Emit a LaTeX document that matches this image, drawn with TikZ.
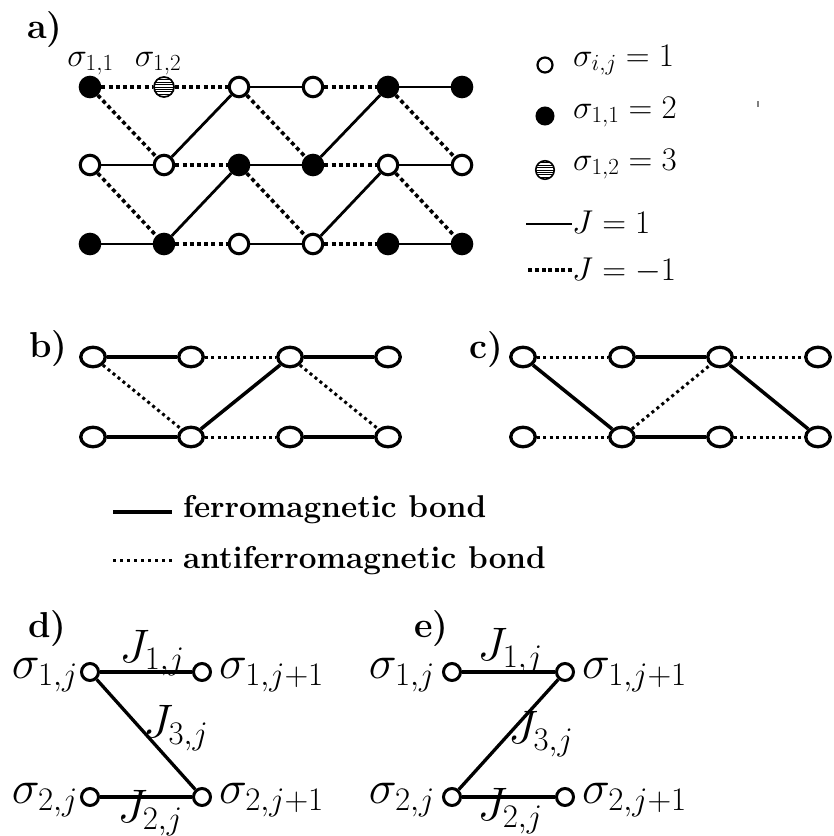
\RequirePackage{fix-cm}
\documentclass[tikz,border=0pt]{standalone}
\usetikzlibrary{shapes.geometric}
\newcommand{\myfsa}{\fontsize{33}{40}\selectfont}
\newcommand{\myfsl}{\fontsize{33}{40}\selectfont}
\newcommand{\myfsb}{\fontsize{36}{43}\selectfont\bfseries}
\newcommand{\myfsf}{\fontsize{31.5}{38}\selectfont\bfseries}
\newcommand{\myfsd}{\fontsize{47}{56}\selectfont}
\tikzset{
  base/.style={circle, draw, line width=3.1pt, inner sep=0pt, minimum size=19.5pt},
  aw/.style={base, fill=white},
  ab/.style={base, fill=black},
  hatchpic/.style={path picture={\foreach \k in {-4,...,4}
      \draw[line width=0.9pt] ([yshift=\k*2.4pt]path picture bounding box.west) -- ([yshift=\k*2.4pt]path picture bounding box.east);}},
  ah/.style={circle, draw, line width=1.7pt, inner sep=0pt, minimum size=20pt, fill=white, hatchpic},
  lw/.style={circle, draw, line width=2.2pt, inner sep=0pt, minimum size=15pt, fill=white},
  lb/.style={circle, draw, line width=2pt, inner sep=0pt, minimum size=17pt, fill=black},
  lh/.style={circle, draw, line width=1.6pt, inner sep=0pt, minimum size=18.5pt, fill=white, hatchpic},
  sol/.style={line width=2.8pt},
  das/.style={line width=3.6pt, dash pattern=on 4pt off 3.2pt},
  ell/.style={ellipse, draw, line width=3.3pt, inner sep=0pt, minimum width=24.5pt, minimum height=19.5pt, fill=white},
  bsol/.style={line width=3.5pt},
  bdot/.style={line width=3pt, dash pattern=on 3pt off 3.4pt},
  dc/.style={circle, draw, line width=3pt, inner sep=0pt, minimum size=17pt, fill=white},
  dsol/.style={line width=3.3pt},
  lab/.style={inner sep=0pt},
}
\begin{document}
\begin{tikzpicture}[x=1pt,y=-1pt]
\useasboundingbox (0,0) rectangle (834,836);

% ---------- panel a ----------
\node[lab, anchor=base west] (alab) at (27,38) {\myfsb a)};
\node[ab] (a11) at (90,87) {};
\node[ah] (a12) at (164,87) {};
\node[aw] (a13) at (239,87) {};
\node[aw] (a14) at (313,87) {};
\node[ab] (a15) at (388,87) {};
\node[ab] (a16) at (462,87) {};
\node[aw] (a21) at (90,165) {};
\node[aw] (a22) at (164,165) {};
\node[ab] (a23) at (239,165) {};
\node[ab] (a24) at (313,165) {};
\node[aw] (a25) at (388,165) {};
\node[aw] (a26) at (462,165) {};
\node[ab] (a31) at (90,244) {};
\node[ab] (a32) at (164,244) {};
\node[aw] (a33) at (239,244) {};
\node[aw] (a34) at (313,244) {};
\node[ab] (a35) at (388,244) {};
\node[ab] (a36) at (462,244) {};
\node[lab, anchor=base] (s11) at (90.5,66) {\myfsa$\sigma_{1,1}$};
\node[lab, anchor=base] (s12) at (158,66) {\myfsa$\sigma_{1,2}$};

\draw[das] (a11) -- (a12);
\draw[das] (a12) -- (a13);
\draw[sol] (a13) -- (a14);
\draw[das] (a14) -- (a15);
\draw[sol] (a15) -- (a16);
\draw[sol] (a21) -- (a22);
\draw[das] (a22) -- (a23);
\draw[sol] (a23) -- (a24);
\draw[das] (a24) -- (a25);
\draw[sol] (a25) -- (a26);
\draw[sol] (a31) -- (a32);
\draw[das] (a32) -- (a33);
\draw[sol] (a33) -- (a34);
\draw[das] (a34) -- (a35);
\draw[sol] (a35) -- (a36);
\draw[das] (a11) -- (a22);
\draw[sol] (a22) -- (a13);
\draw[das] (a13) -- (a24);
\draw[sol] (a24) -- (a15);
\draw[das] (a15) -- (a26);
\draw[das] (a21) -- (a32);
\draw[sol] (a32) -- (a23);
\draw[das] (a23) -- (a34);
\draw[sol] (a34) -- (a25);
\draw[das] (a25) -- (a36);

% legend a
\node[lw] (l1) at (545,65) {};
\node[lab, anchor=base west] (t1) at (573,66) {\myfsl$\sigma_{i,j}=1$};
\node[lb] (l2) at (545,116) {};
\node[lab, anchor=base west] (t2) at (573,118) {\myfsl$\sigma_{1,1}=2$};
\node[lh] (l3) at (545,170) {};
\node[lab, anchor=base west] (t3) at (573,170) {\myfsl$\sigma_{1,2}=3$};
\coordinate (j1a) at (526,224);
\coordinate (j1b) at (572,224);
\draw[sol] (j1a) -- (j1b);
\node[lab, anchor=base west] (t4) at (572,233) {\myfsl$J=1$};
\coordinate (j2a) at (526,270);
\coordinate (j2b) at (572,270);
\draw[line width=3.3pt, dash pattern=on 4pt off 2.6pt] (j2b) -- (j2a);
\node[lab, anchor=base west] (t5) at (572,280) {\myfsl$J=-1$};
\draw[gray, line width=1.2pt] (758,101) -- (758,107);

% ---------- panel b ----------
\node[lab, anchor=base west] (blab) at (29,357) {\myfsb b)};
\node[ell] (b11) at (93,357) {};
\node[ell] (b12) at (191,357) {};
\node[ell] (b13) at (290,357) {};
\node[ell] (b14) at (388,357) {};
\node[ell] (b21) at (93,437) {};
\node[ell] (b22) at (191,437) {};
\node[ell] (b23) at (290,437) {};
\node[ell] (b24) at (388,437) {};
\draw[bsol] (b11) -- (b12);
\draw[bdot] (b12) -- (b13);
\draw[bsol] (b13) -- (b14);
\draw[bsol] (b21) -- (b22);
\draw[bdot] (b22) -- (b23);
\draw[bsol] (b23) -- (b24);
\draw[bdot] (b11) -- (b22);
\draw[bsol] (b22) -- (b13);
\draw[bdot] (b13) -- (b24);

% ---------- panel c ----------
\node[lab, anchor=base west] (clab) at (469,358) {\myfsb c)};
\node[ell] (c11) at (523,357) {};
\node[ell] (c12) at (622,357) {};
\node[ell] (c13) at (720,357) {};
\node[ell] (c14) at (818,357) {};
\node[ell] (c21) at (523,437) {};
\node[ell] (c22) at (622,437) {};
\node[ell] (c23) at (720,437) {};
\node[ell] (c24) at (818,437) {};
\draw[bdot] (c11) -- (c12);
\draw[bsol] (c12) -- (c13);
\draw[bdot] (c13) -- (c14);
\draw[bdot] (c21) -- (c22);
\draw[bsol] (c22) -- (c23);
\draw[bdot] (c23) -- (c24);
\draw[bsol] (c11) -- (c22);
\draw[bdot] (c22) -- (c13);
\draw[bsol] (c13) -- (c24);

% bond legend
\coordinate (fa) at (113,512);
\coordinate (fb) at (172,512);
\draw[bsol] (fa) -- (fb);
\node[lab, anchor=base west] (ft) at (183,517) {\myfsf ferromagnetic bond};
\coordinate (afa) at (113,560);
\coordinate (afb) at (172,560);
\draw[line width=3pt, dash pattern=on 3pt off 4pt] (afa) -- (afb);
\node[lab, anchor=base west] (aft) at (183,568) {\myfsf antiferromagnetic bond};

% ---------- panel d ----------
\node[lab, anchor=base west] (dlab) at (28,637) {\myfsb d)};
\node[dc] (d11) at (90,672) {};
\node[dc] (d12) at (202,672) {};
\node[dc] (d21) at (90,797) {};
\node[dc] (d22) at (202,797) {};
\draw[dsol] (d11) -- (d12);
\draw[dsol] (d21) -- (d22);
\draw[dsol] (d11) -- (d22);
\node[lab, anchor=base east] (ds11) at (78,678) {\myfsd$\sigma_{1,j}$};
\node[lab, anchor=base west] (ds12) at (219,678) {\myfsd$\sigma_{1,j+1}$};
\node[lab, anchor=base east] (ds21) at (78,803) {\myfsd$\sigma_{2,j}$};
\node[lab, anchor=base west] (ds22) at (219,803) {\myfsd$\sigma_{2,j+1}$};
\node[lab, anchor=base] (dj1) at (152,662) {\myfsd$J_{1,j}$};
\node[lab, anchor=base] (dj2) at (150,822) {\myfsd$J_{2,j}$};
\node[lab, anchor=base west] (dj3) at (143,737) {\myfsd$J_{3,j}$};

% ---------- panel e ----------
\node[lab, anchor=base west] (elab) at (414,637) {\myfsb e)};
\node[dc] (e11) at (452,672) {};
\node[dc] (e12) at (565,672) {};
\node[dc] (e21) at (452,797) {};
\node[dc] (e22) at (565,797) {};
\draw[dsol] (e11) -- (e12);
\draw[dsol] (e21) -- (e22);
\draw[dsol] (e21) -- (e12);
\node[lab, anchor=base east] (es11) at (435,678) {\myfsd$\sigma_{1,j}$};
\node[lab, anchor=base west] (es12) at (582,678) {\myfsd$\sigma_{1,j+1}$};
\node[lab, anchor=base east] (es21) at (435,803) {\myfsd$\sigma_{2,j}$};
\node[lab, anchor=base west] (es22) at (582,803) {\myfsd$\sigma_{2,j+1}$};
\node[lab, anchor=base] (ej1) at (510,660) {\myfsd$J_{1,j}$};
\node[lab, anchor=base] (ej2) at (510,820) {\myfsd$J_{2,j}$};
\node[lab, anchor=base west] (ej3) at (508,743) {\myfsd$J_{3,j}$};
\end{tikzpicture}
\end{document}
